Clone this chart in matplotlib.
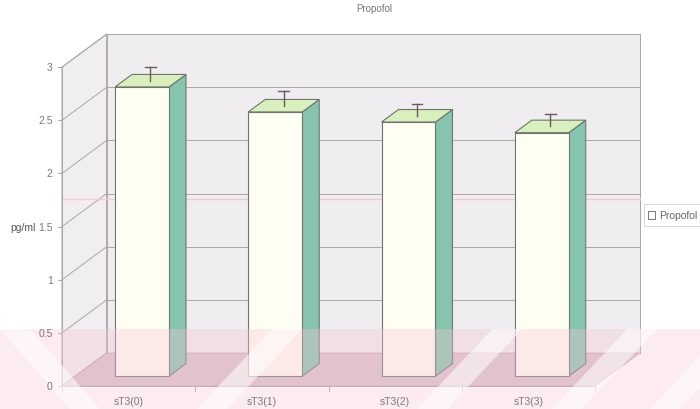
import matplotlib
matplotlib.use("Agg")
import matplotlib.pyplot as plt
from matplotlib.patches import Polygon, Rectangle
import numpy as np

plt.rcParams['font.family'] = ['Liberation Sans', 'DejaVu Sans']

# ---- data ----
categories = ["sT3(0)", "sT3(1)", "sT3(2)", "sT3(3)"]
values = [2.72, 2.485, 2.39, 2.29]
errors = [0.13, 0.135, 0.11, 0.12]
yticks = [0, 0.5, 1, 1.5, 2, 2.5, 3]
ytick_labels = ["0", "0.5", "1", "1.5", "2", "2.5", "3"]
title = "Propofol"
ylabel = "pg/ml"
series_name = "Propofol"

# ---- geometry (styles) ----
DX, DY = 0.335, 0.31         # depth offset of the 3D box (data units)
F1, F2 = 0.30, 0.68          # bar front/back depth fraction
BW = 0.405                   # bar width
NC = len(categories)
YMAX = 3.0
PX, PY = 133.25, 106.3       # pixels per data unit


def px2x(p):
    return (p - 62) / PX


def px2y(p):
    return (387 - p) / PY


fig = plt.figure(figsize=(7.0, 4.1), dpi=100)
fig.patch.set_facecolor("white")
ax = fig.add_axes([0, 0, 1, 1])
ax.set_xlim(px2x(0), px2x(700))
ax.set_ylim(px2y(410), px2y(0))
ax.axis("off")

wall = "#efedef"
grid_c = "#aaa6a8"
# back wall
ax.add_patch(Rectangle((DX, DY), NC, YMAX, facecolor=wall, edgecolor=grid_c, lw=0.7, zorder=1))
# left wall
ax.add_patch(Polygon([(0, 0), (DX, DY), (DX, YMAX + DY), (0, YMAX)], closed=True,
                     facecolor="#f0eef0", edgecolor=grid_c, lw=0.7, zorder=1))
# gridlines
for v in yticks:
    ax.plot([0, DX], [v, v + DY], color=grid_c, lw=0.7, zorder=2)
    ax.plot([DX, NC + DX], [v + DY, v + DY], color=grid_c, lw=0.7, zorder=2)
# faint pink horizontal line (scan artifact)
ax.plot([0, NC + DX], [px2y(200), px2y(200)], color="#f2c8da", lw=1.0, zorder=2)

# floor
floor_c = "#d9c0cc"
ax.add_patch(Polygon([(0, 0), (NC, 0), (NC + DX, DY), (DX, DY)], closed=True,
                     facecolor=floor_c, edgecolor="#c0a3b1", lw=0.6, zorder=3))

# y axis ticks & labels
ax.plot([0, 0], [0, YMAX], color=grid_c, lw=0.7, zorder=4)
for v, lab in zip(yticks, ytick_labels):
    ax.plot([-0.03, 0], [v, v], color=grid_c, lw=0.7, zorder=4)
    ax.text(-0.07, v, lab, ha="right", va="center", fontsize=7.5, color="#7a7a7a", zorder=9)
ax.text(-0.2, 1.5, ylabel, ha="right", va="center", fontsize=7.5, color="#555555", zorder=9)

# category ticks & labels
ax.plot([0, NC], [0, 0], color=grid_c, lw=0.7, zorder=4)
for i in range(NC + 1):
    ax.plot([i, i], [0, -0.05], color=grid_c, lw=0.7, zorder=4)
for i, c in enumerate(categories):
    ax.text(i + 0.5, px2y(402), c, ha="center", va="center", fontsize=7.5, color="#7a7a7a", zorder=9)

# bars
x = np.arange(NC) + 0.5 + F1 * DX
bottom = F1 * DY
edge = "#6f7470"
ax.bar(x, values, width=BW, bottom=bottom, color="#fffef3", edgecolor=edge, lw=0.8, zorder=6)
ddx = (F2 - F1) * DX
ddy = (F2 - F1) * DY
for xi, v in zip(x, values):
    xr = xi + BW / 2
    xl = xi - BW / 2
    top = bottom + v
    ax.add_patch(Polygon([(xr, bottom), (xr + ddx, bottom + ddy), (xr + ddx, top + ddy), (xr, top)],
                         closed=True, facecolor="#86c4ad", edgecolor=edge, lw=0.8, zorder=5))
    ax.add_patch(Polygon([(xl, top), (xr, top), (xr + ddx, top + ddy), (xl + ddx, top + ddy)],
                         closed=True, facecolor="#d9efbd", edgecolor=edge, lw=0.8, zorder=5))

# error bars at mid-depth
fm = (F1 + F2) / 2
for xi, v, e in zip(x, values, errors):
    cx = xi + (fm - F1) * DX
    base = v + fm * DY
    ax.plot([cx, cx], [base, base + e], color="#6b5a5a", lw=1.0, zorder=7)
    ax.plot([cx - 0.04, cx + 0.04], [base + e, base + e], color="#6b5a5a", lw=1.0, zorder=7)

# watermark-like pale pink band with white diagonal stripes (scan artifact)
band_top = px2y(330)
band_bot = px2y(410)
ax.add_patch(Rectangle((px2x(0), band_bot), px2x(700) - px2x(0), band_top - band_bot,
                       facecolor="#f7c6d6", edgecolor="none", alpha=0.35, zorder=8))
h = band_top - band_bot
for xb in [197, 417, 552, 650]:
    x0 = px2x(xb)
    w = 30 / PX
    s = h * 0.75
    ax.add_patch(Polygon([(x0, band_bot), (x0 + w, band_bot), (x0 + w + s, band_top), (x0 + s, band_top)],
                         closed=True, facecolor="white", edgecolor="none", alpha=0.55, zorder=8))
ax.add_patch(Polygon([(px2x(0), band_top), (px2x(30), band_top), (px2x(100), band_bot), (px2x(70), band_bot)],
                     closed=True, facecolor="white", edgecolor="none", alpha=0.55, zorder=8))

# title
ax.text(px2x(374), px2y(9), title, ha="center", va="center", fontsize=7, color="#777777")

# legend
lx, ly = px2x(648), px2y(216)
ax.add_patch(Rectangle((lx - 0.03, ly - 0.1), 0.43, 0.2, facecolor="white",
                       edgecolor="#d0d0d0", lw=0.6, zorder=4))
ax.add_patch(Rectangle((lx, ly - 0.035), 0.05, 0.07, facecolor="#fffef3",
                       edgecolor="#777777", lw=0.7, zorder=5))
ax.text(lx + 0.08, ly, series_name, ha="left", va="center", fontsize=7.5, color="#666666", zorder=5)

fig.savefig("out.png", dpi=100)
